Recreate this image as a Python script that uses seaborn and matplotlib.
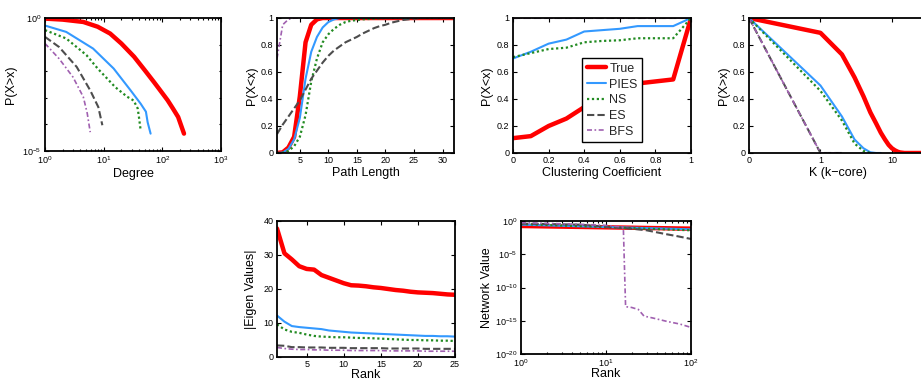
import math
import matplotlib
matplotlib.use("Agg")
import matplotlib.pyplot as plt
from matplotlib.ticker import FixedLocator, FuncFormatter, LogLocator, NullFormatter, NullLocator
import seaborn as sns

# ---------------------------------------------------------------- data
methods = ["True", "PIES", "NS", "ES", "BFS"]

# Degree distribution, P(X>x)
deg_true_x = [1, 2.0, 4.5, 7.9, 12.9, 20, 33, 50, 72, 89, 123, 151, 186, 234]
deg_true_y = [0.95, 0.87, 0.71, 0.47, 0.26, 0.11, 0.035, 0.011, 0.0039, 0.0021, 8.1e-4, 4.0e-4, 1.9e-4, 4.5e-5]
deg_pies_x = [1, 2.3, 6.6, 14.8, 28.8, 42.7, 52.5, 56.2, 63.1]
deg_pies_y = [0.52, 0.30, 0.071, 0.0126, 1.9e-3, 6.0e-4, 3.0e-4, 1.2e-4, 4.5e-5]
deg_ns_x = [1, 2.3, 5.1, 7.9, 15.8, 25.1, 32.4, 38, 39.8, 42.7]
deg_ns_y = [0.35, 0.17, 0.040, 0.0126, 2.5e-3, 1.1e-3, 7.9e-4, 4.0e-4, 2.0e-4, 6.0e-5]
deg_es_x = [1, 1.74, 3.47, 5.9, 8.1, 9.5]
deg_es_y = [0.195, 0.081, 0.0145, 1.9e-3, 4.5e-4, 9.3e-5]
deg_bfs_x = [1, 1.74, 3.0, 4.5, 5.25, 5.9]
deg_bfs_y = [0.11, 0.0295, 6.0e-3, 1.07e-3, 2.6e-4, 5.1e-5]

# Path length distribution, P(X<x)
path_true_x = [1, 2, 3, 4, 5, 6, 7, 8, 9, 32]
path_true_y = [0.0, 0.005, 0.04, 0.12, 0.42, 0.82, 0.95, 0.99, 1.0, 1.0]
path_pies_x = [1, 2, 3, 4, 5, 6, 7, 8, 9, 10, 11, 12, 32]
path_pies_y = [0.0, 0.003, 0.03, 0.10, 0.26, 0.55, 0.75, 0.86, 0.93, 0.97, 0.99, 1.0, 1.0]
path_ns_x = [1, 2, 3, 4, 5, 6, 7, 8, 9, 10, 11, 12, 13, 14, 16, 18, 20, 32]
path_ns_y = [0.0, 0.002, 0.015, 0.05, 0.12, 0.28, 0.53, 0.70, 0.82, 0.88, 0.92, 0.95, 0.97, 0.98, 0.99, 0.995, 1.0, 1.0]
path_es_x = [1, 2, 3, 4, 5, 6, 7, 8, 9, 10, 11, 12, 13, 14, 15, 16, 17, 18, 19, 20, 21, 22, 23, 24, 25, 26, 32]
path_es_y = [0.14, 0.21, 0.27, 0.33, 0.39, 0.47, 0.55, 0.61, 0.67, 0.72, 0.76, 0.79, 0.82, 0.84, 0.86, 0.885,
             0.905, 0.925, 0.94, 0.95, 0.965, 0.975, 0.985, 0.99, 0.995, 1.0, 1.0]
path_bfs_x = [1, 2, 3, 4, 32]
path_bfs_y = [0.70, 0.95, 0.99, 1.0, 1.0]

# Clustering coefficient distribution, P(X<x)
cc_x = [0.0, 0.1, 0.2, 0.3, 0.4, 0.5, 0.6, 0.7, 0.8, 0.9, 1.0]
cc_true = [0.11, 0.125, 0.20, 0.255, 0.34, 0.42, 0.47, 0.515, 0.53, 0.545, 1.0]
cc_pies = [0.70, 0.75, 0.81, 0.84, 0.90, 0.91, 0.92, 0.94, 0.94, 0.94, 1.0]
cc_ns = [0.71, 0.74, 0.77, 0.78, 0.82, 0.83, 0.835, 0.85, 0.85, 0.85, 1.0]
cc_es = [1.0, 1.0, 1.0, 1.0, 1.0, 1.0, 1.0, 1.0, 1.0, 1.0, 1.0]
cc_bfs = [1.0, 1.0, 1.0, 1.0, 1.0, 1.0, 1.0, 1.0, 1.0, 1.0, 1.0]

# k-core distribution, P(X>x)
kc_true_x = [0, 1, 2, 3, 4, 5, 6, 7, 8, 9, 10, 11, 12, 13, 15, 30]
kc_true_y = [1.0, 0.89, 0.73, 0.56, 0.42, 0.30, 0.22, 0.15, 0.10, 0.06, 0.035, 0.02, 0.01, 0.004, 0.0, 0.0]
kc_pies_x = [0, 1, 2, 3, 4, 5, 6, 7]
kc_pies_y = [1.0, 0.50, 0.27, 0.10, 0.035, 0.005, 0.0, 0.0]
kc_ns_x = [0, 1, 2, 3, 4, 5]
kc_ns_y = [1.0, 0.46, 0.24, 0.07, 0.015, 0.0]
kc_es_x = [0, 1, 2]
kc_es_y = [1.0, 0.0, 0.0]
kc_bfs_x = [0, 1, 2]
kc_bfs_y = [1.0, 0.0, 0.0]

# Top eigenvalues by rank
eig_rank = [1, 2, 3, 4, 5, 6, 7, 8, 9, 10, 11, 12, 13, 14, 15, 16, 17, 18, 19, 20, 21, 22, 23, 24, 25]
eig_true = [37.8, 30.5, 28.7, 26.7, 25.9, 25.7, 24.1, 23.3, 22.5, 21.7, 21.1, 21.0, 20.8, 20.5, 20.3,
            20.0, 19.7, 19.5, 19.2, 19.0, 18.9, 18.8, 18.6, 18.4, 18.3]
eig_pies = [12.2, 10.4, 9.1, 8.8, 8.6, 8.4, 8.2, 7.8, 7.6, 7.4, 7.2, 7.1, 7.0, 6.9, 6.8,
            6.7, 6.6, 6.5, 6.4, 6.3, 6.2, 6.2, 6.1, 6.1, 6.0]
eig_ns = [9.6, 8.1, 7.4, 7.1, 6.6, 6.2, 6.0, 5.9, 5.8, 5.8, 5.7, 5.6, 5.6, 5.5, 5.4,
          5.3, 5.2, 5.1, 5.0, 5.0, 4.9, 4.9, 4.8, 4.8, 4.7]
eig_es = [3.4, 3.3, 2.9, 2.9, 2.8, 2.8, 2.8, 2.7, 2.7, 2.7, 2.6, 2.6, 2.6, 2.6, 2.6,
          2.5, 2.5, 2.5, 2.5, 2.5, 2.4, 2.4, 2.4, 2.4, 2.4]
eig_bfs = [2.8, 2.5, 2.3, 2.2, 2.2, 2.1, 2.1, 2.0, 2.0, 2.0, 1.9, 1.9, 1.9, 1.9, 1.9,
           1.8, 1.8, 1.8, 1.8, 1.8, 1.7, 1.7, 1.7, 1.7, 1.7]

# Network values (principal eigenvector components) by rank
nv_rank = [1, 2, 3, 5, 10, 20, 30, 50, 70, 100]
nv_true = [0.178, 0.155, 0.143, 0.129, 0.112, 0.098, 0.089, 0.081, 0.075, 0.071]
nv_pies = [0.28, 0.22, 0.19, 0.16, 0.126, 0.099, 0.086, 0.072, 0.064, 0.056]
nv_ns = [0.355, 0.255, 0.21, 0.166, 0.119, 0.085, 0.070, 0.055, 0.047, 0.040]
nv_es = [0.40, 0.355, 0.316, 0.28, 0.14, 0.07, 0.04, 0.011, 0.005, 0.002]
nv_bfs_rank = [1, 2, 3, 5, 10, 15, 16, 17, 20, 24, 28, 36, 52, 74, 100]
nv_bfs = [0.56, 0.45, 0.38, 0.32, 0.22, 0.126, 0.10, 1.3e-13, 1.0e-13, 5.0e-14, 5.0e-15,
          2.5e-15, 8.0e-16, 3.2e-16, 1.0e-16]

# ---------------------------------------------------------------- style
sns.set_theme(style="ticks")
plt.rcParams["font.family"] = ["Liberation Sans", "DejaVu Sans"]
plt.rcParams.update({
    "mathtext.fontset": "custom",
    "mathtext.rm": "Liberation Sans",
    "mathtext.it": "Liberation Sans",
    "mathtext.default": "regular",
    "axes.linewidth": 1.3,
    "axes.edgecolor": "black",
    "axes.labelcolor": "black",
    "xtick.color": "black",
    "ytick.color": "black",
})

line_style = {
    "True": dict(color="#ff0000", linewidth=3.2, linestyle="-"),
    "PIES": dict(color="#3399ff", linewidth=1.5, linestyle="-"),
    "NS": dict(color="#228b22", linewidth=1.6, linestyle=(0, (1, 1.2))),
    "ES": dict(color="#4d4d4d", linewidth=1.5, linestyle=(0, (3.5, 1.5))),
    "BFS": dict(color="#a060b0", linewidth=1.2, linestyle=(0, (3, 1.5, 1, 1.5))),
}

W, H = 921, 381
fig = plt.figure(figsize=(W / 100, H / 100), dpi=100)


def add_axes(x0, y0, x1, y1):
    return fig.add_axes([x0 / W, 1 - y1 / H, (x1 - x0) / W, (y1 - y0) / H])


def draw(ax, x, y, name):
    sns.lineplot(x=x, y=y, ax=ax, estimator=None, sort=False, legend=False, **line_style[name])


def finish(ax, xlabel, ylabel, xlab_y, ylab_x):
    ax.set_xlabel(xlabel, fontsize=9)
    ax.set_ylabel(ylabel, fontsize=9)
    ax.xaxis.set_label_coords(0.5, xlab_y)
    ax.yaxis.set_label_coords(ylab_x, 0.5)
    ax.tick_params(which="both", direction="in", top=True, right=True,
                   labelsize=6.5, pad=2.5, width=0.8)
    ax.tick_params(which="major", length=3)
    ax.tick_params(which="minor", length=1.6)
    for s in ax.spines.values():
        s.set_visible(True)
        s.set_zorder(3)


plain = FuncFormatter(lambda v, p: f"{v:g}")
pow10 = FuncFormatter(lambda v, p: r"$10^{%d}$" % round(math.log10(v)))

# ---------------------------------------------------------------- degree
ax1 = add_axes(45, 18, 221, 151)
for name, x, y in zip(methods,
                      [deg_true_x, deg_pies_x, deg_ns_x, deg_es_x, deg_bfs_x],
                      [deg_true_y, deg_pies_y, deg_ns_y, deg_es_y, deg_bfs_y]):
    draw(ax1, x, y, name)
ax1.set_xscale("log")
ax1.set_yscale("log")
ax1.set_xlim(1, 1000)
ax1.set_ylim(1e-5, 1)
ax1.xaxis.set_major_locator(FixedLocator([1, 10, 100, 1000]))
ax1.xaxis.set_major_formatter(pow10)
ax1.xaxis.set_minor_locator(LogLocator(base=10, subs=range(2, 10)))
ax1.xaxis.set_minor_formatter(NullFormatter())
ax1.yaxis.set_major_locator(FixedLocator([1e-5, 1]))
ax1.yaxis.set_major_formatter(pow10)
ax1.yaxis.set_minor_locator(FixedLocator([1e-4, 1e-3, 1e-2, 1e-1]))
ax1.yaxis.set_minor_formatter(NullFormatter())
finish(ax1, "Degree", "P(X>x)", -0.125, -0.16)

# ---------------------------------------------------------------- path length
ax2 = add_axes(277, 18, 454, 153)
for name, x, y in zip(methods,
                      [path_true_x, path_pies_x, path_ns_x, path_es_x, path_bfs_x],
                      [path_true_y, path_pies_y, path_ns_y, path_es_y, path_bfs_y]):
    draw(ax2, x, y, name)
ax2.set_xlim(1, 32)
ax2.set_ylim(0, 1)
ax2.set_xticks([5, 10, 15, 20, 25, 30])
ax2.set_yticks([0, 0.2, 0.4, 0.6, 0.8, 1])
ax2.yaxis.set_major_formatter(plain)
ax2.xaxis.set_minor_locator(NullLocator())
ax2.yaxis.set_minor_locator(NullLocator())
finish(ax2, "Path Length", "P(X<x)", -0.105, -0.11)

# ---------------------------------------------------------------- clustering
ax3 = add_axes(513, 18, 691, 153)
for name, y in zip(methods, [cc_true, cc_pies, cc_ns, cc_es, cc_bfs]):
    draw(ax3, cc_x, y, name)
ax3.set_xlim(0, 1)
ax3.set_ylim(0, 1)
ax3.set_xticks([0, 0.2, 0.4, 0.6, 0.8, 1])
ax3.set_yticks([0, 0.2, 0.4, 0.6, 0.8, 1])
ax3.xaxis.set_major_formatter(plain)
ax3.yaxis.set_major_formatter(plain)
ax3.xaxis.set_minor_locator(NullLocator())
ax3.yaxis.set_minor_locator(NullLocator())
finish(ax3, "Clustering Coefficient", "P(X<x)", -0.105, -0.11)
leg = ax3.legend(ax3.get_lines()[:5], methods, loc="upper left",
                 bbox_to_anchor=(0.39, 0.70), fontsize=9, frameon=True,
                 fancybox=False, framealpha=1, edgecolor="black",
                 handlelength=1.5, handletextpad=0.3, labelspacing=0.3,
                 borderpad=0.35, borderaxespad=0)
leg.get_frame().set_linewidth(1.0)

# ---------------------------------------------------------------- k-core
ax4 = add_axes(749, 18, 926, 153)
for name, x, y in zip(methods,
                      [kc_true_x, kc_pies_x, kc_ns_x, kc_es_x, kc_bfs_x],
                      [kc_true_y, kc_pies_y, kc_ns_y, kc_es_y, kc_bfs_y]):
    draw(ax4, x, y, name)
ax4.set_xscale("symlog", linthresh=1, linscale=0.9)
ax4.set_xlim(0, 30)
ax4.set_ylim(0, 1)
ax4.xaxis.set_major_locator(FixedLocator([0, 1, 10]))
ax4.xaxis.set_major_formatter(plain)
ax4.xaxis.set_minor_locator(NullLocator())
ax4.set_yticks([0, 0.2, 0.4, 0.6, 0.8, 1])
ax4.yaxis.set_major_formatter(plain)
ax4.yaxis.set_minor_locator(NullLocator())
finish(ax4, "K (k\u2212core)", "P(X>x)", -0.105, -0.11)

# ---------------------------------------------------------------- eigenvalues
ax5 = add_axes(277, 221, 455, 357)
for name, y in zip(methods, [eig_true, eig_pies, eig_ns, eig_es, eig_bfs]):
    draw(ax5, eig_rank, y, name)
ax5.set_xlim(1, 25)
ax5.set_ylim(0, 40)
ax5.set_xticks([5, 10, 15, 20, 25])
ax5.set_yticks([0, 10, 20, 30, 40])
ax5.xaxis.set_minor_locator(NullLocator())
ax5.yaxis.set_minor_locator(NullLocator())
finish(ax5, "Rank", "|Eigen Values|", -0.085, -0.11)

# ---------------------------------------------------------------- network value
ax6 = add_axes(521, 221, 691, 354)
for name, x, y in zip(methods,
                      [nv_rank, nv_rank, nv_rank, nv_rank, nv_bfs_rank],
                      [nv_true, nv_pies, nv_ns, nv_es, nv_bfs]):
    draw(ax6, x, y, name)
ax6.set_xscale("log")
ax6.set_yscale("log")
ax6.set_xlim(1, 100)
ax6.set_ylim(1e-20, 1)
ax6.xaxis.set_major_locator(FixedLocator([1, 10, 100]))
ax6.xaxis.set_major_formatter(pow10)
ax6.xaxis.set_minor_locator(LogLocator(base=10, subs=range(2, 10)))
ax6.xaxis.set_minor_formatter(NullFormatter())
ax6.yaxis.set_major_locator(FixedLocator([1e-20, 1e-15, 1e-10, 1e-5, 1]))
ax6.yaxis.set_major_formatter(pow10)
ax6.yaxis.set_minor_locator(NullLocator())
finish(ax6, "Rank", "Network Value", -0.105, -0.165)

fig.savefig("out.png", dpi=100, facecolor="white")
